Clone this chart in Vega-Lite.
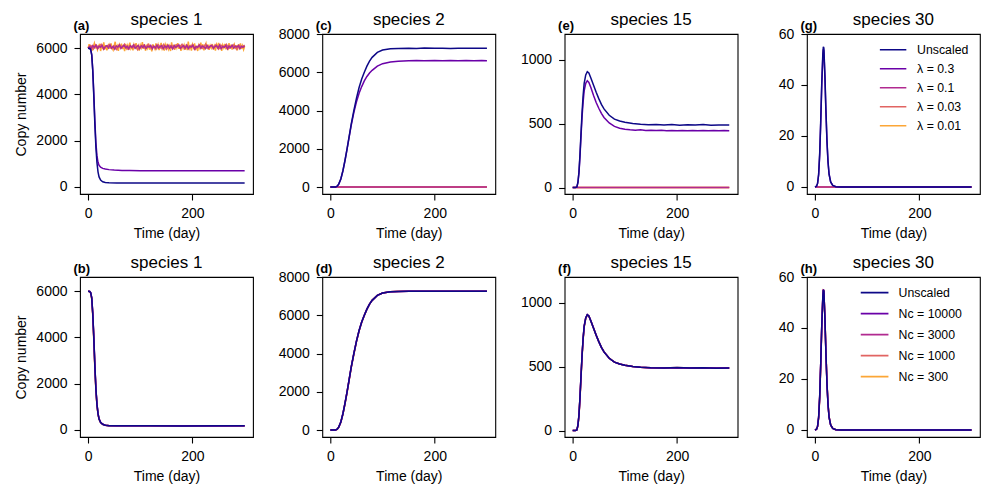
{
"$schema":"https://vega.github.io/schema/vega-lite/v6.json",
"background":"white",
"padding":{"left":14,"top":10,"right":5,"bottom":5},
"config":{
 "font":"Liberation Sans",
 "view":{"stroke":"black","strokeWidth":1.1},
 "axis":{"grid":false,"domain":false,"tickColor":"black","tickSize":6,"tickWidth":1.1,"labelColor":"black","labelFontSize":14,"labelFont":"Liberation Sans","labelFlush":false,"titleColor":"black","titleFontSize":14,"titleFont":"Liberation Sans","titleFontWeight":"normal"},
 "axisX":{"labelPadding":6,"titlePadding":6},
 "axisY":{"labelPadding":7,"titlePadding":7},
 "title":{"fontSize":17,"fontWeight":"normal","color":"black","font":"Liberation Sans","baseline":"alphabetic","offset":-10},
 "legend":{"labelColor":"black","labelFont":"Liberation Sans"}
},
"datasets":{
"a":[
{"k":4,"t":0,"v":6000},{"k":4,"t":2,"v":6170},{"k":4,"t":4,"v":5960},{"k":4,"t":6,"v":6110},{"k":4,"t":8,"v":5900},{"k":4,"t":10,"v":6080},{"k":4,"t":12,"v":6220},{"k":4,"t":14,"v":5990},{"k":4,"t":16,"v":6140},{"k":4,"t":18,"v":5930},{"k":4,"t":20,"v":6060},
{"k":4,"t":22,"v":6190},{"k":4,"t":24,"v":5880},{"k":4,"t":26,"v":6100},{"k":4,"t":28,"v":6020},{"k":4,"t":30,"v":6250},{"k":4,"t":32,"v":5950},{"k":4,"t":34,"v":6130},{"k":4,"t":36,"v":5910},{"k":4,"t":38,"v":6070},{"k":4,"t":40,"v":6160},
{"k":4,"t":42,"v":5970},{"k":4,"t":44,"v":6210},{"k":4,"t":46,"v":6010},{"k":4,"t":48,"v":5920},{"k":4,"t":50,"v":6120},{"k":4,"t":52,"v":6280},{"k":4,"t":54,"v":5940},{"k":4,"t":56,"v":6090},{"k":4,"t":58,"v":5890},{"k":4,"t":60,"v":6150},
{"k":4,"t":62,"v":6030},{"k":4,"t":64,"v":6200},{"k":4,"t":66,"v":5960},{"k":4,"t":68,"v":6110},{"k":4,"t":70,"v":5870},{"k":4,"t":72,"v":6180},{"k":4,"t":74,"v":6000},{"k":4,"t":76,"v":6130},{"k":4,"t":78,"v":5930},{"k":4,"t":80,"v":6240},
{"k":4,"t":82,"v":5980},{"k":4,"t":84,"v":6070},{"k":4,"t":86,"v":5910},{"k":4,"t":88,"v":6160},{"k":4,"t":90,"v":6040},{"k":4,"t":92,"v":6220},{"k":4,"t":94,"v":5950},{"k":4,"t":96,"v":6100},{"k":4,"t":98,"v":5900},{"k":4,"t":100,"v":6140},
{"k":4,"t":102,"v":6020},{"k":4,"t":104,"v":6260},{"k":4,"t":106,"v":5970},{"k":4,"t":108,"v":6180},{"k":4,"t":110,"v":5890},{"k":4,"t":112,"v":6090},{"k":4,"t":114,"v":5990},{"k":4,"t":116,"v":6200},{"k":4,"t":118,"v":5940},{"k":4,"t":120,"v":6120},
{"k":4,"t":122,"v":5860},{"k":4,"t":124,"v":6170},{"k":4,"t":126,"v":6050},{"k":4,"t":128,"v":5960},{"k":4,"t":130,"v":6210},{"k":4,"t":132,"v":6010},{"k":4,"t":134,"v":6150},{"k":4,"t":136,"v":5920},{"k":4,"t":138,"v":6080},{"k":4,"t":140,"v":6230},
{"k":4,"t":142,"v":5980},{"k":4,"t":144,"v":6110},{"k":4,"t":146,"v":5900},{"k":4,"t":148,"v":6160},{"k":4,"t":150,"v":6030},{"k":4,"t":152,"v":6190},{"k":4,"t":154,"v":5960},{"k":4,"t":156,"v":6090},{"k":4,"t":158,"v":5880},{"k":4,"t":160,"v":6250},
{"k":4,"t":162,"v":5990},{"k":4,"t":164,"v":6140},{"k":4,"t":166,"v":5930},{"k":4,"t":168,"v":6170},{"k":4,"t":170,"v":6020},{"k":4,"t":172,"v":6220},{"k":4,"t":174,"v":5970},{"k":4,"t":176,"v":6120},{"k":4,"t":178,"v":5890},{"k":4,"t":180,"v":6150},
{"k":4,"t":182,"v":6000},{"k":4,"t":184,"v":6140},{"k":4,"t":186,"v":5940},{"k":4,"t":188,"v":6160},{"k":4,"t":190,"v":5920},{"k":4,"t":192,"v":6290},{"k":4,"t":194,"v":5980},{"k":4,"t":196,"v":6080},{"k":4,"t":198,"v":5900},{"k":4,"t":200,"v":6160},
{"k":4,"t":202,"v":6030},{"k":4,"t":204,"v":6210},{"k":4,"t":206,"v":5950},{"k":4,"t":208,"v":6100},{"k":4,"t":210,"v":5880},{"k":4,"t":212,"v":6130},{"k":4,"t":214,"v":6010},{"k":4,"t":216,"v":6240},{"k":4,"t":218,"v":5960},{"k":4,"t":220,"v":6170},
{"k":4,"t":222,"v":5910},{"k":4,"t":224,"v":6060},{"k":4,"t":226,"v":6200},{"k":4,"t":228,"v":5970},{"k":4,"t":230,"v":6150},{"k":4,"t":232,"v":5930},{"k":4,"t":234,"v":6120},{"k":4,"t":236,"v":6010},{"k":4,"t":238,"v":6180},{"k":4,"t":240,"v":5940},
{"k":4,"t":242,"v":6090},{"k":4,"t":244,"v":5900},{"k":4,"t":246,"v":6160},{"k":4,"t":248,"v":6040},{"k":4,"t":250,"v":6230},{"k":4,"t":252,"v":5970},{"k":4,"t":254,"v":6110},{"k":4,"t":256,"v":5890},{"k":4,"t":258,"v":6140},{"k":4,"t":260,"v":6020},
{"k":4,"t":262,"v":6190},{"k":4,"t":264,"v":5950},{"k":4,"t":266,"v":6120},{"k":4,"t":268,"v":5920},{"k":4,"t":270,"v":6220},{"k":4,"t":272,"v":5990},{"k":4,"t":274,"v":6150},{"k":4,"t":276,"v":5940},{"k":4,"t":278,"v":6100},{"k":4,"t":280,"v":6180},
{"k":4,"t":282,"v":5960},{"k":4,"t":284,"v":6130},{"k":4,"t":286,"v":5910},{"k":4,"t":288,"v":6170},{"k":4,"t":290,"v":6030},{"k":4,"t":292,"v":6210},{"k":4,"t":294,"v":5970},{"k":4,"t":296,"v":6110},{"k":4,"t":298,"v":5940},{"k":4,"t":300,"v":6080},
{"k":3,"t":0,"v":6000},{"k":3,"t":5,"v":6120},{"k":3,"t":10,"v":5960},{"k":3,"t":15,"v":6150},{"k":3,"t":20,"v":6020},{"k":3,"t":25,"v":6170},{"k":3,"t":30,"v":5950},{"k":3,"t":35,"v":6090},{"k":3,"t":40,"v":6140},{"k":3,"t":45,"v":5990},
{"k":3,"t":50,"v":6110},{"k":3,"t":55,"v":5940},{"k":3,"t":60,"v":6160},{"k":3,"t":65,"v":6040},{"k":3,"t":70,"v":6180},{"k":3,"t":75,"v":5970},{"k":3,"t":80,"v":6100},{"k":3,"t":85,"v":6010},{"k":3,"t":90,"v":6150},{"k":3,"t":95,"v":5930},
{"k":3,"t":100,"v":6080},{"k":3,"t":105,"v":6130},{"k":3,"t":110,"v":5980},{"k":3,"t":115,"v":6170},{"k":3,"t":120,"v":6030},{"k":3,"t":125,"v":6100},{"k":3,"t":130,"v":5960},{"k":3,"t":135,"v":6140},{"k":3,"t":140,"v":6000},{"k":3,"t":145,"v":6160},
{"k":3,"t":150,"v":5950},{"k":3,"t":155,"v":6090},{"k":3,"t":160,"v":6120},{"k":3,"t":165,"v":5990},{"k":3,"t":170,"v":6150},{"k":3,"t":175,"v":6040},{"k":3,"t":180,"v":6170},{"k":3,"t":185,"v":5970},{"k":3,"t":190,"v":6110},{"k":3,"t":195,"v":6020},
{"k":3,"t":200,"v":6160},{"k":3,"t":205,"v":5940},{"k":3,"t":210,"v":6080},{"k":3,"t":215,"v":6130},{"k":3,"t":220,"v":6000},{"k":3,"t":225,"v":6170},{"k":3,"t":230,"v":5980},{"k":3,"t":235,"v":6100},{"k":3,"t":240,"v":6050},{"k":3,"t":245,"v":6150},
{"k":3,"t":250,"v":5960},{"k":3,"t":255,"v":6120},{"k":3,"t":260,"v":6030},{"k":3,"t":265,"v":6170},{"k":3,"t":270,"v":5990},{"k":3,"t":275,"v":6090},{"k":3,"t":280,"v":6140},{"k":3,"t":285,"v":5950},{"k":3,"t":290,"v":6110},{"k":3,"t":295,"v":6060},{"k":3,"t":300,"v":6130},
{"k":2,"t":0,"v":6000},{"k":2,"t":3,"v":6080},{"k":2,"t":6,"v":5990},{"k":2,"t":9,"v":6110},{"k":2,"t":12,"v":6030},{"k":2,"t":15,"v":6130},{"k":2,"t":18,"v":5980},{"k":2,"t":21,"v":6090},{"k":2,"t":24,"v":6040},{"k":2,"t":27,"v":6120},
{"k":2,"t":30,"v":5970},{"k":2,"t":33,"v":6070},{"k":2,"t":36,"v":6110},{"k":2,"t":39,"v":6010},{"k":2,"t":42,"v":6140},{"k":2,"t":45,"v":6000},{"k":2,"t":48,"v":6080},{"k":2,"t":51,"v":5960},{"k":2,"t":54,"v":6100},{"k":2,"t":57,"v":6050},
{"k":2,"t":60,"v":6130},{"k":2,"t":63,"v":5990},{"k":2,"t":66,"v":6070},{"k":2,"t":69,"v":6120},{"k":2,"t":72,"v":6020},{"k":2,"t":75,"v":6090},{"k":2,"t":78,"v":5970},{"k":2,"t":81,"v":6110},{"k":2,"t":84,"v":6040},{"k":2,"t":87,"v":6140},
{"k":2,"t":90,"v":6000},{"k":2,"t":93,"v":6060},{"k":2,"t":96,"v":6120},{"k":2,"t":99,"v":5980},{"k":2,"t":102,"v":6100},{"k":2,"t":105,"v":6030},{"k":2,"t":108,"v":6130},{"k":2,"t":111,"v":5990},{"k":2,"t":114,"v":6080},{"k":2,"t":117,"v":6050},
{"k":2,"t":120,"v":6120},{"k":2,"t":123,"v":5970},{"k":2,"t":126,"v":6090},{"k":2,"t":129,"v":6020},{"k":2,"t":132,"v":6140},{"k":2,"t":135,"v":6010},{"k":2,"t":138,"v":6070},{"k":2,"t":141,"v":6110},{"k":2,"t":144,"v":5980},{"k":2,"t":147,"v":6100},
{"k":2,"t":150,"v":6040},{"k":2,"t":153,"v":6130},{"k":2,"t":156,"v":6000},{"k":2,"t":159,"v":6080},{"k":2,"t":162,"v":5970},{"k":2,"t":165,"v":6120},{"k":2,"t":168,"v":6030},{"k":2,"t":171,"v":6090},{"k":2,"t":174,"v":6140},{"k":2,"t":177,"v":5990},
{"k":2,"t":180,"v":6060},{"k":2,"t":183,"v":6110},{"k":2,"t":186,"v":6010},{"k":2,"t":189,"v":6130},{"k":2,"t":192,"v":5980},{"k":2,"t":195,"v":6090},{"k":2,"t":198,"v":6050},{"k":2,"t":201,"v":6120},{"k":2,"t":204,"v":5970},{"k":2,"t":207,"v":6080},
{"k":2,"t":210,"v":6030},{"k":2,"t":213,"v":6140},{"k":2,"t":216,"v":6000},{"k":2,"t":219,"v":6100},{"k":2,"t":222,"v":6060},{"k":2,"t":225,"v":5980},{"k":2,"t":228,"v":6120},{"k":2,"t":231,"v":6020},{"k":2,"t":234,"v":6090},{"k":2,"t":237,"v":6130},
{"k":2,"t":240,"v":5990},{"k":2,"t":243,"v":6070},{"k":2,"t":246,"v":6110},{"k":2,"t":249,"v":6010},{"k":2,"t":252,"v":6140},{"k":2,"t":255,"v":5980},{"k":2,"t":258,"v":6080},{"k":2,"t":261,"v":6040},{"k":2,"t":264,"v":6120},{"k":2,"t":267,"v":5970},
{"k":2,"t":270,"v":6100},{"k":2,"t":273,"v":6030},{"k":2,"t":276,"v":6130},{"k":2,"t":279,"v":6000},{"k":2,"t":282,"v":6090},{"k":2,"t":285,"v":6050},{"k":2,"t":288,"v":6120},{"k":2,"t":291,"v":5980},{"k":2,"t":294,"v":6080},{"k":2,"t":297,"v":6040},{"k":2,"t":300,"v":6100},
{"k":1,"t":0,"v":6000},{"k":1,"t":3,"v":5990},{"k":1,"t":5,"v":5940},{"k":1,"t":7,"v":5720},{"k":1,"t":9,"v":5050},{"k":1,"t":11,"v":4000},{"k":1,"t":13,"v":2850},{"k":1,"t":15,"v":1900},{"k":1,"t":17,"v":1350},{"k":1,"t":19,"v":1060},{"k":1,"t":21,"v":930},{"k":1,"t":24,"v":850},{"k":1,"t":28,"v":800},{"k":1,"t":33,"v":770},{"k":1,"t":40,"v":745},{"k":1,"t":50,"v":725},{"k":1,"t":65,"v":712},{"k":1,"t":80,"v":705},{"k":1,"t":100,"v":700},{"k":1,"t":130,"v":698},{"k":1,"t":160,"v":697},{"k":1,"t":200,"v":696},{"k":1,"t":250,"v":695},{"k":1,"t":300,"v":694},
{"k":0,"t":0,"v":6000},{"k":0,"t":3,"v":5990},{"k":0,"t":5,"v":5940},{"k":0,"t":7,"v":5700},{"k":0,"t":9,"v":5000},{"k":0,"t":11,"v":3900},{"k":0,"t":13,"v":2700},{"k":0,"t":15,"v":1700},{"k":0,"t":17,"v":1050},{"k":0,"t":19,"v":650},{"k":0,"t":21,"v":430},{"k":0,"t":24,"v":290},{"k":0,"t":28,"v":220},{"k":0,"t":33,"v":190},{"k":0,"t":40,"v":177},{"k":0,"t":55,"v":171},{"k":0,"t":80,"v":170},{"k":0,"t":120,"v":169},{"k":0,"t":170,"v":170},{"k":0,"t":220,"v":169},{"k":0,"t":260,"v":170},{"k":0,"t":300,"v":170}
],
"b":[
{"k":4,"t":0,"v":6000},{"k":4,"t":3,"v":5985},{"k":4,"t":5,"v":5910},{"k":4,"t":7,"v":5650},{"k":4,"t":9,"v":4920},{"k":4,"t":11,"v":3850},{"k":4,"t":13,"v":2650},{"k":4,"t":15,"v":1680},{"k":4,"t":17,"v":1060},{"k":4,"t":19,"v":680},{"k":4,"t":21,"v":460},{"k":4,"t":24,"v":315},{"k":4,"t":28,"v":238},{"k":4,"t":33,"v":199},{"k":4,"t":40,"v":181},{"k":4,"t":55,"v":174},{"k":4,"t":80,"v":172},{"k":4,"t":120,"v":171},{"k":4,"t":180,"v":172},{"k":4,"t":240,"v":171},{"k":4,"t":300,"v":172},
{"k":3,"t":0,"v":6000},{"k":3,"t":3,"v":5988},{"k":3,"t":5,"v":5920},{"k":3,"t":7,"v":5680},{"k":3,"t":9,"v":4970},{"k":3,"t":11,"v":3900},{"k":3,"t":13,"v":2700},{"k":3,"t":15,"v":1720},{"k":3,"t":17,"v":1080},{"k":3,"t":19,"v":690},{"k":3,"t":21,"v":465},{"k":3,"t":24,"v":318},{"k":3,"t":28,"v":239},{"k":3,"t":33,"v":200},{"k":3,"t":40,"v":182},{"k":3,"t":55,"v":175},{"k":3,"t":80,"v":172},{"k":3,"t":120,"v":172},{"k":3,"t":180,"v":171},{"k":3,"t":240,"v":172},{"k":3,"t":300,"v":171},
{"k":2,"t":0,"v":6000},{"k":2,"t":3,"v":5990},{"k":2,"t":5,"v":5935},{"k":2,"t":7,"v":5710},{"k":2,"t":9,"v":5020},{"k":2,"t":11,"v":3980},{"k":2,"t":13,"v":2780},{"k":2,"t":15,"v":1770},{"k":2,"t":17,"v":1115},{"k":2,"t":19,"v":705},{"k":2,"t":21,"v":472},{"k":2,"t":24,"v":321},{"k":2,"t":28,"v":240},{"k":2,"t":33,"v":200},{"k":2,"t":40,"v":182},{"k":2,"t":55,"v":175},{"k":2,"t":80,"v":172},{"k":2,"t":120,"v":172},{"k":2,"t":180,"v":171},{"k":2,"t":240,"v":172},{"k":2,"t":300,"v":172},
{"k":1,"t":0,"v":6000},{"k":1,"t":3,"v":5992},{"k":1,"t":5,"v":5940},{"k":1,"t":7,"v":5720},{"k":1,"t":9,"v":5040},{"k":1,"t":11,"v":4000},{"k":1,"t":13,"v":2800},{"k":1,"t":15,"v":1790},{"k":1,"t":17,"v":1125},{"k":1,"t":19,"v":712},{"k":1,"t":21,"v":475},{"k":1,"t":24,"v":322},{"k":1,"t":28,"v":241},{"k":1,"t":33,"v":201},{"k":1,"t":40,"v":183},{"k":1,"t":55,"v":175},{"k":1,"t":80,"v":173},{"k":1,"t":120,"v":172},{"k":1,"t":180,"v":172},{"k":1,"t":240,"v":171},{"k":1,"t":300,"v":172},
{"k":0,"t":0,"v":6000},{"k":0,"t":3,"v":5990},{"k":0,"t":5,"v":5930},{"k":0,"t":7,"v":5700},{"k":0,"t":9,"v":5000},{"k":0,"t":11,"v":3950},{"k":0,"t":13,"v":2750},{"k":0,"t":15,"v":1750},{"k":0,"t":17,"v":1100},{"k":0,"t":19,"v":700},{"k":0,"t":21,"v":470},{"k":0,"t":24,"v":320},{"k":0,"t":28,"v":240},{"k":0,"t":33,"v":200},{"k":0,"t":40,"v":182},{"k":0,"t":55,"v":175},{"k":0,"t":80,"v":172},{"k":0,"t":120,"v":172},{"k":0,"t":180,"v":171},{"k":0,"t":240,"v":172},{"k":0,"t":300,"v":172}
],
"c":[
{"k":4,"t":0,"v":0},{"k":4,"t":300,"v":0},
{"k":3,"t":0,"v":0},{"k":3,"t":300,"v":0},
{"k":2,"t":0,"v":0},{"k":2,"t":300,"v":0},
{"k":1,"t":0,"v":0},{"k":1,"t":5,"v":0},{"k":1,"t":10,"v":5},{"k":1,"t":13,"v":40},{"k":1,"t":16,"v":150},{"k":1,"t":20,"v":420},{"k":1,"t":24,"v":840},{"k":1,"t":28,"v":1380},{"k":1,"t":32,"v":2000},{"k":1,"t":36,"v":2620},{"k":1,"t":40,"v":3240},{"k":1,"t":45,"v":3900},{"k":1,"t":50,"v":4450},{"k":1,"t":55,"v":4900},{"k":1,"t":60,"v":5250},{"k":1,"t":65,"v":5550},{"k":1,"t":70,"v":5780},{"k":1,"t":75,"v":5960},{"k":1,"t":80,"v":6100},{"k":1,"t":90,"v":6320},{"k":1,"t":100,"v":6450},{"k":1,"t":115,"v":6540},{"k":1,"t":130,"v":6580},{"k":1,"t":150,"v":6600},{"k":1,"t":165,"v":6610},{"k":1,"t":180,"v":6595},{"k":1,"t":200,"v":6615},{"k":1,"t":215,"v":6600},{"k":1,"t":230,"v":6620},{"k":1,"t":245,"v":6605},{"k":1,"t":260,"v":6615},{"k":1,"t":275,"v":6600},{"k":1,"t":290,"v":6612},{"k":1,"t":300,"v":6605},
{"k":0,"t":0,"v":0},{"k":0,"t":5,"v":0},{"k":0,"t":10,"v":5},{"k":0,"t":13,"v":40},{"k":0,"t":16,"v":150},{"k":0,"t":20,"v":420},{"k":0,"t":24,"v":850},{"k":0,"t":28,"v":1400},{"k":0,"t":32,"v":2000},{"k":0,"t":36,"v":2650},{"k":0,"t":40,"v":3300},{"k":0,"t":45,"v":4000},{"k":0,"t":50,"v":4650},{"k":0,"t":55,"v":5200},{"k":0,"t":60,"v":5650},{"k":0,"t":65,"v":6000},{"k":0,"t":70,"v":6320},{"k":0,"t":75,"v":6580},{"k":0,"t":80,"v":6780},{"k":0,"t":90,"v":7040},{"k":0,"t":100,"v":7160},{"k":0,"t":115,"v":7225},{"k":0,"t":130,"v":7245},{"k":0,"t":150,"v":7255},{"k":0,"t":165,"v":7248},{"k":0,"t":180,"v":7262},{"k":0,"t":200,"v":7250},{"k":0,"t":215,"v":7258},{"k":0,"t":230,"v":7247},{"k":0,"t":245,"v":7260},{"k":0,"t":260,"v":7252},{"k":0,"t":275,"v":7258},{"k":0,"t":290,"v":7249},{"k":0,"t":300,"v":7255}
],
"d":[
{"k":4,"t":0,"v":0},{"k":4,"t":5,"v":0},{"k":4,"t":10,"v":4},{"k":4,"t":13,"v":35},{"k":4,"t":16,"v":140},{"k":4,"t":20,"v":400},{"k":4,"t":24,"v":820},{"k":4,"t":28,"v":1360},{"k":4,"t":32,"v":1960},{"k":4,"t":36,"v":2610},{"k":4,"t":40,"v":3260},{"k":4,"t":45,"v":3960},{"k":4,"t":50,"v":4620},{"k":4,"t":55,"v":5170},{"k":4,"t":60,"v":5630},{"k":4,"t":65,"v":5990},{"k":4,"t":70,"v":6310},{"k":4,"t":75,"v":6575},{"k":4,"t":80,"v":6780},{"k":4,"t":90,"v":7045},{"k":4,"t":100,"v":7165},{"k":4,"t":115,"v":7230},{"k":4,"t":130,"v":7250},{"k":4,"t":150,"v":7258},{"k":4,"t":175,"v":7252},{"k":4,"t":200,"v":7255},{"k":4,"t":225,"v":7251},{"k":4,"t":250,"v":7257},{"k":4,"t":275,"v":7250},{"k":4,"t":300,"v":7253},
{"k":3,"t":0,"v":0},{"k":3,"t":5,"v":0},{"k":3,"t":10,"v":5},{"k":3,"t":13,"v":38},{"k":3,"t":16,"v":145},{"k":3,"t":20,"v":410},{"k":3,"t":24,"v":835},{"k":3,"t":28,"v":1380},{"k":3,"t":32,"v":1980},{"k":3,"t":36,"v":2630},{"k":3,"t":40,"v":3280},{"k":3,"t":45,"v":3980},{"k":3,"t":50,"v":4635},{"k":3,"t":55,"v":5185},{"k":3,"t":60,"v":5640},{"k":3,"t":65,"v":5995},{"k":3,"t":70,"v":6315},{"k":3,"t":75,"v":6578},{"k":3,"t":80,"v":6780},{"k":3,"t":90,"v":7042},{"k":3,"t":100,"v":7162},{"k":3,"t":115,"v":7228},{"k":3,"t":130,"v":7247},{"k":3,"t":150,"v":7256},{"k":3,"t":175,"v":7251},{"k":3,"t":200,"v":7257},{"k":3,"t":225,"v":7252},{"k":3,"t":250,"v":7255},{"k":3,"t":275,"v":7253},{"k":3,"t":300,"v":7254},
{"k":2,"t":0,"v":0},{"k":2,"t":5,"v":0},{"k":2,"t":10,"v":5},{"k":2,"t":13,"v":40},{"k":2,"t":16,"v":150},{"k":2,"t":20,"v":418},{"k":2,"t":24,"v":848},{"k":2,"t":28,"v":1398},{"k":2,"t":32,"v":1998},{"k":2,"t":36,"v":2648},{"k":2,"t":40,"v":3298},{"k":2,"t":45,"v":3998},{"k":2,"t":50,"v":4648},{"k":2,"t":55,"v":5198},{"k":2,"t":60,"v":5648},{"k":2,"t":65,"v":5998},{"k":2,"t":70,"v":6318},{"k":2,"t":75,"v":6580},{"k":2,"t":80,"v":6780},{"k":2,"t":90,"v":7040},{"k":2,"t":100,"v":7160},{"k":2,"t":115,"v":7226},{"k":2,"t":130,"v":7246},{"k":2,"t":150,"v":7255},{"k":2,"t":175,"v":7250},{"k":2,"t":200,"v":7258},{"k":2,"t":225,"v":7250},{"k":2,"t":250,"v":7256},{"k":2,"t":275,"v":7252},{"k":2,"t":300,"v":7255},
{"k":1,"t":0,"v":0},{"k":1,"t":5,"v":0},{"k":1,"t":10,"v":5},{"k":1,"t":13,"v":41},{"k":1,"t":16,"v":152},{"k":1,"t":20,"v":422},{"k":1,"t":24,"v":852},{"k":1,"t":28,"v":1402},{"k":1,"t":32,"v":2002},{"k":1,"t":36,"v":2652},{"k":1,"t":40,"v":3302},{"k":1,"t":45,"v":4002},{"k":1,"t":50,"v":4650},{"k":1,"t":55,"v":5200},{"k":1,"t":60,"v":5650},{"k":1,"t":65,"v":6000},{"k":1,"t":70,"v":6320},{"k":1,"t":75,"v":6580},{"k":1,"t":80,"v":6780},{"k":1,"t":90,"v":7040},{"k":1,"t":100,"v":7160},{"k":1,"t":115,"v":7225},{"k":1,"t":130,"v":7245},{"k":1,"t":150,"v":7254},{"k":1,"t":175,"v":7251},{"k":1,"t":200,"v":7257},{"k":1,"t":225,"v":7251},{"k":1,"t":250,"v":7255},{"k":1,"t":275,"v":7253},{"k":1,"t":300,"v":7254},
{"k":0,"t":0,"v":0},{"k":0,"t":5,"v":0},{"k":0,"t":10,"v":5},{"k":0,"t":13,"v":40},{"k":0,"t":16,"v":150},{"k":0,"t":20,"v":420},{"k":0,"t":24,"v":850},{"k":0,"t":28,"v":1400},{"k":0,"t":32,"v":2000},{"k":0,"t":36,"v":2650},{"k":0,"t":40,"v":3300},{"k":0,"t":45,"v":4000},{"k":0,"t":50,"v":4650},{"k":0,"t":55,"v":5200},{"k":0,"t":60,"v":5650},{"k":0,"t":65,"v":6000},{"k":0,"t":70,"v":6320},{"k":0,"t":75,"v":6580},{"k":0,"t":80,"v":6780},{"k":0,"t":90,"v":7040},{"k":0,"t":100,"v":7160},{"k":0,"t":115,"v":7225},{"k":0,"t":130,"v":7245},{"k":0,"t":150,"v":7255},{"k":0,"t":175,"v":7250},{"k":0,"t":200,"v":7258},{"k":0,"t":225,"v":7250},{"k":0,"t":250,"v":7256},{"k":0,"t":275,"v":7252},{"k":0,"t":300,"v":7255}
],
"e":[
{"k":4,"t":0,"v":0},{"k":4,"t":300,"v":0},
{"k":3,"t":0,"v":0},{"k":3,"t":300,"v":0},
{"k":2,"t":0,"v":0},{"k":2,"t":300,"v":0},
{"k":1,"t":0,"v":0},{"k":1,"t":5,"v":0},{"k":1,"t":8,"v":5},{"k":1,"t":10,"v":38},{"k":1,"t":12,"v":115},{"k":1,"t":14,"v":245},{"k":1,"t":16,"v":405},{"k":1,"t":18,"v":555},{"k":1,"t":20,"v":670},{"k":1,"t":22,"v":755},{"k":1,"t":25,"v":815},{"k":1,"t":28,"v":835},{"k":1,"t":31,"v":822},{"k":1,"t":35,"v":780},{"k":1,"t":40,"v":720},{"k":1,"t":45,"v":665},{"k":1,"t":50,"v":620},{"k":1,"t":55,"v":580},{"k":1,"t":60,"v":548},{"k":1,"t":70,"v":505},{"k":1,"t":80,"v":478},{"k":1,"t":90,"v":464},{"k":1,"t":100,"v":456},{"k":1,"t":110,"v":452},{"k":1,"t":120,"v":449},{"k":1,"t":130,"v":451},{"k":1,"t":140,"v":447},{"k":1,"t":150,"v":449},{"k":1,"t":160,"v":446},{"k":1,"t":170,"v":448},{"k":1,"t":180,"v":445},{"k":1,"t":190,"v":447},{"k":1,"t":200,"v":444},{"k":1,"t":210,"v":446},{"k":1,"t":220,"v":445},{"k":1,"t":230,"v":447},{"k":1,"t":240,"v":444},{"k":1,"t":250,"v":446},{"k":1,"t":260,"v":445},{"k":1,"t":270,"v":447},{"k":1,"t":280,"v":444},{"k":1,"t":290,"v":446},{"k":1,"t":300,"v":445},
{"k":0,"t":0,"v":0},{"k":0,"t":5,"v":0},{"k":0,"t":8,"v":5},{"k":0,"t":10,"v":40},{"k":0,"t":12,"v":120},{"k":0,"t":14,"v":260},{"k":0,"t":16,"v":430},{"k":0,"t":18,"v":590},{"k":0,"t":20,"v":720},{"k":0,"t":22,"v":815},{"k":0,"t":25,"v":880},{"k":0,"t":28,"v":905},{"k":0,"t":31,"v":895},{"k":0,"t":35,"v":855},{"k":0,"t":40,"v":800},{"k":0,"t":45,"v":745},{"k":0,"t":50,"v":695},{"k":0,"t":55,"v":650},{"k":0,"t":60,"v":615},{"k":0,"t":70,"v":565},{"k":0,"t":80,"v":535},{"k":0,"t":90,"v":520},{"k":0,"t":100,"v":510},{"k":0,"t":115,"v":500},{"k":0,"t":130,"v":494},{"k":0,"t":145,"v":491},{"k":0,"t":160,"v":493},{"k":0,"t":175,"v":489},{"k":0,"t":190,"v":492},{"k":0,"t":205,"v":488},{"k":0,"t":220,"v":491},{"k":0,"t":235,"v":489},{"k":0,"t":250,"v":492},{"k":0,"t":265,"v":488},{"k":0,"t":280,"v":490},{"k":0,"t":300,"v":489}
],
"f":[
{"k":4,"t":0,"v":0},{"k":4,"t":5,"v":0},{"k":4,"t":8,"v":4},{"k":4,"t":10,"v":36},{"k":4,"t":12,"v":112},{"k":4,"t":14,"v":248},{"k":4,"t":16,"v":415},{"k":4,"t":18,"v":575},{"k":4,"t":20,"v":708},{"k":4,"t":22,"v":806},{"k":4,"t":25,"v":875},{"k":4,"t":28,"v":902},{"k":4,"t":31,"v":893},{"k":4,"t":35,"v":854},{"k":4,"t":40,"v":800},{"k":4,"t":45,"v":746},{"k":4,"t":50,"v":696},{"k":4,"t":55,"v":651},{"k":4,"t":60,"v":616},{"k":4,"t":70,"v":566},{"k":4,"t":80,"v":536},{"k":4,"t":90,"v":521},{"k":4,"t":100,"v":511},{"k":4,"t":115,"v":501},{"k":4,"t":130,"v":495},{"k":4,"t":150,"v":490},{"k":4,"t":175,"v":491},{"k":4,"t":200,"v":491},{"k":4,"t":225,"v":490},{"k":4,"t":250,"v":490},{"k":4,"t":275,"v":489},{"k":4,"t":300,"v":489},
{"k":3,"t":0,"v":0},{"k":3,"t":5,"v":0},{"k":3,"t":8,"v":5},{"k":3,"t":10,"v":38},{"k":3,"t":12,"v":116},{"k":3,"t":14,"v":254},{"k":3,"t":16,"v":422},{"k":3,"t":18,"v":583},{"k":3,"t":20,"v":714},{"k":3,"t":22,"v":810},{"k":3,"t":25,"v":878},{"k":3,"t":28,"v":904},{"k":3,"t":31,"v":894},{"k":3,"t":35,"v":855},{"k":3,"t":40,"v":800},{"k":3,"t":45,"v":745},{"k":3,"t":50,"v":695},{"k":3,"t":55,"v":650},{"k":3,"t":60,"v":615},{"k":3,"t":70,"v":565},{"k":3,"t":80,"v":535},{"k":3,"t":90,"v":520},{"k":3,"t":100,"v":510},{"k":3,"t":115,"v":500},{"k":3,"t":130,"v":494},{"k":3,"t":150,"v":491},{"k":3,"t":175,"v":490},{"k":3,"t":200,"v":492},{"k":3,"t":225,"v":489},{"k":3,"t":250,"v":491},{"k":3,"t":275,"v":488},{"k":3,"t":300,"v":490},
{"k":2,"t":0,"v":0},{"k":2,"t":5,"v":0},{"k":2,"t":8,"v":5},{"k":2,"t":10,"v":40},{"k":2,"t":12,"v":119},{"k":2,"t":14,"v":258},{"k":2,"t":16,"v":428},{"k":2,"t":18,"v":588},{"k":2,"t":20,"v":718},{"k":2,"t":22,"v":814},{"k":2,"t":25,"v":880},{"k":2,"t":28,"v":906},{"k":2,"t":31,"v":896},{"k":2,"t":35,"v":856},{"k":2,"t":40,"v":801},{"k":2,"t":45,"v":745},{"k":2,"t":50,"v":695},{"k":2,"t":55,"v":650},{"k":2,"t":60,"v":615},{"k":2,"t":70,"v":565},{"k":2,"t":80,"v":535},{"k":2,"t":90,"v":520},{"k":2,"t":100,"v":510},{"k":2,"t":115,"v":500},{"k":2,"t":130,"v":494},{"k":2,"t":150,"v":490},{"k":2,"t":175,"v":491},{"k":2,"t":200,"v":490},{"k":2,"t":225,"v":491},{"k":2,"t":250,"v":489},{"k":2,"t":275,"v":490},{"k":2,"t":300,"v":489},
{"k":1,"t":0,"v":0},{"k":1,"t":5,"v":0},{"k":1,"t":8,"v":5},{"k":1,"t":10,"v":41},{"k":1,"t":12,"v":121},{"k":1,"t":14,"v":262},{"k":1,"t":16,"v":432},{"k":1,"t":18,"v":592},{"k":1,"t":20,"v":721},{"k":1,"t":22,"v":816},{"k":1,"t":25,"v":881},{"k":1,"t":28,"v":905},{"k":1,"t":31,"v":895},{"k":1,"t":35,"v":855},{"k":1,"t":40,"v":800},{"k":1,"t":45,"v":745},{"k":1,"t":50,"v":695},{"k":1,"t":55,"v":650},{"k":1,"t":60,"v":615},{"k":1,"t":70,"v":565},{"k":1,"t":80,"v":535},{"k":1,"t":90,"v":520},{"k":1,"t":100,"v":510},{"k":1,"t":115,"v":500},{"k":1,"t":130,"v":494},{"k":1,"t":150,"v":491},{"k":1,"t":175,"v":490},{"k":1,"t":200,"v":491},{"k":1,"t":225,"v":489},{"k":1,"t":250,"v":490},{"k":1,"t":275,"v":489},{"k":1,"t":300,"v":490},
{"k":0,"t":0,"v":0},{"k":0,"t":5,"v":0},{"k":0,"t":8,"v":5},{"k":0,"t":10,"v":40},{"k":0,"t":12,"v":120},{"k":0,"t":14,"v":260},{"k":0,"t":16,"v":430},{"k":0,"t":18,"v":590},{"k":0,"t":20,"v":720},{"k":0,"t":22,"v":815},{"k":0,"t":25,"v":880},{"k":0,"t":28,"v":905},{"k":0,"t":31,"v":895},{"k":0,"t":35,"v":855},{"k":0,"t":40,"v":800},{"k":0,"t":45,"v":745},{"k":0,"t":50,"v":695},{"k":0,"t":55,"v":650},{"k":0,"t":60,"v":615},{"k":0,"t":70,"v":565},{"k":0,"t":80,"v":535},{"k":0,"t":90,"v":520},{"k":0,"t":100,"v":510},{"k":0,"t":115,"v":500},{"k":0,"t":130,"v":494},{"k":0,"t":150,"v":491},{"k":0,"t":175,"v":490},{"k":0,"t":200,"v":492},{"k":0,"t":225,"v":489},{"k":0,"t":250,"v":491},{"k":0,"t":275,"v":488},{"k":0,"t":300,"v":490}
],
"g":[
{"k":4,"t":0,"v":0},{"k":4,"t":300,"v":0},
{"k":3,"t":0,"v":0},{"k":3,"t":300,"v":0},
{"k":2,"t":0,"v":0},{"k":2,"t":300,"v":0},
{"k":1,"t":0,"v":0},{"k":1,"t":3,"v":0.3},{"k":1,"t":5,"v":1.4},{"k":1,"t":7,"v":4.8},{"k":1,"t":9,"v":12.5},{"k":1,"t":11,"v":25},{"k":1,"t":13,"v":40},{"k":1,"t":15,"v":51},{"k":1,"t":16,"v":54},{"k":1,"t":17,"v":53.5},{"k":1,"t":19,"v":43},{"k":1,"t":21,"v":29},{"k":1,"t":23,"v":17.5},{"k":1,"t":25,"v":9.5},{"k":1,"t":27,"v":5},{"k":1,"t":30,"v":2},{"k":1,"t":34,"v":0.6},{"k":1,"t":40,"v":0.1},{"k":1,"t":50,"v":0},{"k":1,"t":300,"v":0},
{"k":0,"t":0,"v":0},{"k":0,"t":3,"v":0.3},{"k":0,"t":5,"v":1.5},{"k":0,"t":7,"v":5},{"k":0,"t":9,"v":13},{"k":0,"t":11,"v":26},{"k":0,"t":13,"v":41},{"k":0,"t":15,"v":52},{"k":0,"t":16,"v":55},{"k":0,"t":17,"v":54.5},{"k":0,"t":19,"v":44},{"k":0,"t":21,"v":30},{"k":0,"t":23,"v":18},{"k":0,"t":25,"v":10},{"k":0,"t":27,"v":5},{"k":0,"t":30,"v":2},{"k":0,"t":34,"v":0.6},{"k":0,"t":40,"v":0.1},{"k":0,"t":50,"v":0},{"k":0,"t":300,"v":0}
],
"h":[
{"k":4,"t":0,"v":0},{"k":4,"t":3,"v":0.3},{"k":4,"t":5,"v":1.3},{"k":4,"t":7,"v":4.6},{"k":4,"t":9,"v":12.2},{"k":4,"t":11,"v":25},{"k":4,"t":13,"v":40},{"k":4,"t":15,"v":51.5},{"k":4,"t":16,"v":54.8},{"k":4,"t":17,"v":54.6},{"k":4,"t":19,"v":44.5},{"k":4,"t":21,"v":30.5},{"k":4,"t":23,"v":18.5},{"k":4,"t":25,"v":10.3},{"k":4,"t":27,"v":5.2},{"k":4,"t":30,"v":2.1},{"k":4,"t":34,"v":0.6},{"k":4,"t":40,"v":0.1},{"k":4,"t":50,"v":0},{"k":4,"t":300,"v":0},
{"k":3,"t":0,"v":0},{"k":3,"t":3,"v":0.3},{"k":3,"t":5,"v":1.4},{"k":3,"t":7,"v":4.8},{"k":3,"t":9,"v":12.6},{"k":3,"t":11,"v":25.5},{"k":3,"t":13,"v":40.5},{"k":3,"t":15,"v":51.8},{"k":3,"t":16,"v":55},{"k":3,"t":17,"v":54.5},{"k":3,"t":19,"v":44.2},{"k":3,"t":21,"v":30.2},{"k":3,"t":23,"v":18.2},{"k":3,"t":25,"v":10.1},{"k":3,"t":27,"v":5.1},{"k":3,"t":30,"v":2},{"k":3,"t":34,"v":0.6},{"k":3,"t":40,"v":0.1},{"k":3,"t":50,"v":0},{"k":3,"t":300,"v":0},
{"k":2,"t":0,"v":0},{"k":2,"t":3,"v":0.3},{"k":2,"t":5,"v":1.5},{"k":2,"t":7,"v":5},{"k":2,"t":9,"v":13},{"k":2,"t":11,"v":26},{"k":2,"t":13,"v":41},{"k":2,"t":15,"v":52},{"k":2,"t":16,"v":55.2},{"k":2,"t":17,"v":54.4},{"k":2,"t":19,"v":44},{"k":2,"t":21,"v":30},{"k":2,"t":23,"v":18},{"k":2,"t":25,"v":10},{"k":2,"t":27,"v":5},{"k":2,"t":30,"v":2},{"k":2,"t":34,"v":0.6},{"k":2,"t":40,"v":0.1},{"k":2,"t":50,"v":0},{"k":2,"t":300,"v":0},
{"k":1,"t":0,"v":0},{"k":1,"t":3,"v":0.3},{"k":1,"t":5,"v":1.5},{"k":1,"t":7,"v":5.1},{"k":1,"t":9,"v":13.2},{"k":1,"t":11,"v":26.2},{"k":1,"t":13,"v":41.2},{"k":1,"t":15,"v":52.1},{"k":1,"t":16,"v":55},{"k":1,"t":17,"v":54.4},{"k":1,"t":19,"v":43.8},{"k":1,"t":21,"v":29.8},{"k":1,"t":23,"v":17.9},{"k":1,"t":25,"v":9.9},{"k":1,"t":27,"v":5},{"k":1,"t":30,"v":2},{"k":1,"t":34,"v":0.6},{"k":1,"t":40,"v":0.1},{"k":1,"t":50,"v":0},{"k":1,"t":300,"v":0},
{"k":0,"t":0,"v":0},{"k":0,"t":3,"v":0.3},{"k":0,"t":5,"v":1.5},{"k":0,"t":7,"v":5},{"k":0,"t":9,"v":13},{"k":0,"t":11,"v":26},{"k":0,"t":13,"v":41},{"k":0,"t":15,"v":52},{"k":0,"t":16,"v":55},{"k":0,"t":17,"v":54.5},{"k":0,"t":19,"v":44},{"k":0,"t":21,"v":30},{"k":0,"t":23,"v":18},{"k":0,"t":25,"v":10},{"k":0,"t":27,"v":5},{"k":0,"t":30,"v":2},{"k":0,"t":34,"v":0.6},{"k":0,"t":40,"v":0.1},{"k":0,"t":50,"v":0},{"k":0,"t":300,"v":0}
]
},
"vconcat":[
{"hconcat":[
{"width":173,"height":160,"data":{"name":"a"},"title":{"text":"species 1"},
 "layer":[
  {"mark":{"type":"line","strokeWidth":1.5},"encoding":{
   "x":{"field":"t","type":"quantitative","scale":{"domain":[-15.5,316],"nice":false,"zero":false},"axis":{"values":[0,200],"title":"Time (day)"}},
   "y":{"field":"v","type":"quantitative","scale":{"domain":[-310,6615],"nice":false,"zero":false},"axis":{"values":[0,2000,4000,6000],"format":"d","title":"Copy number"}},
   "color":{"field":"k","type":"nominal","scale":{"domain":[0,1,2,3,4],"range":["#0d0887","#6a00a8","#b12a90","#e16462","#fca636"]},"legend":null}}},
  {"data":{"values":[{"t":0}]},"mark":{"type":"point","opacity":0},"encoding":{"x":{"field":"t","type":"quantitative","scale":{"domain":[-15.5,316],"nice":false,"zero":false},"axis":{"orient":"top","title":"(a)","labels":false,"ticks":false,"domain":false,"titleAlign":"left","titleX":-7,"titleY":-5,"titleBaseline":"alphabetic","titleFontWeight":"bold","titleFontSize":13}}}}
 ],
 "resolve":{"axis":{"x":"independent"}}},
{"width":173,"height":160,"data":{"name":"c"},"title":{"text":"species 2"},
 "layer":[
  {"mark":{"type":"line","strokeWidth":1.5},"encoding":{
   "x":{"field":"t","type":"quantitative","scale":{"domain":[-15.5,316],"nice":false,"zero":false},"axis":{"values":[0,200],"title":"Time (day)"}},
   "y":{"field":"v","type":"quantitative","scale":{"domain":[-365,8000],"nice":false,"zero":false},"axis":{"values":[0,2000,4000,6000,8000],"format":"d","title":null}},
   "color":{"field":"k","type":"nominal","scale":{"domain":[0,1,2,3,4],"range":["#0d0887","#6a00a8","#b12a90","#e16462","#fca636"]},"legend":null}}},
  {"data":{"values":[{"t":0}]},"mark":{"type":"point","opacity":0},"encoding":{"x":{"field":"t","type":"quantitative","scale":{"domain":[-15.5,316],"nice":false,"zero":false},"axis":{"orient":"top","title":"(c)","labels":false,"ticks":false,"domain":false,"titleAlign":"left","titleX":-7,"titleY":-5,"titleBaseline":"alphabetic","titleFontWeight":"bold","titleFontSize":13}}}}
 ],
 "resolve":{"axis":{"x":"independent"}}},
{"width":173,"height":160,"data":{"name":"e"},"title":{"text":"species 15"},
 "layer":[
  {"mark":{"type":"line","strokeWidth":1.5},"encoding":{
   "x":{"field":"t","type":"quantitative","scale":{"domain":[-15.5,316],"nice":false,"zero":false},"axis":{"values":[0,200],"title":"Time (day)"}},
   "y":{"field":"v","type":"quantitative","scale":{"domain":[-50,1200],"nice":false,"zero":false},"axis":{"values":[0,500,1000],"format":"d","title":null}},
   "color":{"field":"k","type":"nominal","scale":{"domain":[0,1,2,3,4],"range":["#0d0887","#6a00a8","#b12a90","#e16462","#fca636"]},"legend":null}}},
  {"data":{"values":[{"t":0}]},"mark":{"type":"point","opacity":0},"encoding":{"x":{"field":"t","type":"quantitative","scale":{"domain":[-15.5,316],"nice":false,"zero":false},"axis":{"orient":"top","title":"(e)","labels":false,"ticks":false,"domain":false,"titleAlign":"left","titleX":-7,"titleY":-5,"titleBaseline":"alphabetic","titleFontWeight":"bold","titleFontSize":13}}}}
 ],
 "resolve":{"axis":{"x":"independent"}}},
{"width":173,"height":160,"data":{"name":"g"},"title":{"text":"species 30"},
 "layer":[
  {"mark":{"type":"line","strokeWidth":1.5},"encoding":{
   "x":{"field":"t","type":"quantitative","scale":{"domain":[-15.5,316],"nice":false,"zero":false},"axis":{"values":[0,200],"title":"Time (day)"}},
   "y":{"field":"v","type":"quantitative","scale":{"domain":[-2.75,60],"nice":false,"zero":false},"axis":{"values":[0,20,40,60],"format":"d","title":null}},
   "color":{"field":"k","type":"nominal","scale":{"domain":[0,1,2,3,4],"range":["#0d0887","#6a00a8","#b12a90","#e16462","#fca636"]},
    "legend":{"orient":"none","legendX":71.7,"legendY":6.5,"title":null,"symbolType":"stroke","symbolSize":700,"symbolStrokeWidth":1.6,"labelFontSize":12.3,"clipHeight":18.5,"rowPadding":0,"labelOffset":9.5,"padding":0,"labelExpr":"['Unscaled','λ = 0.3','λ = 0.1','λ = 0.03','λ = 0.01'][datum.value]"}}}},
  {"data":{"values":[{"t":0}]},"mark":{"type":"point","opacity":0},"encoding":{"x":{"field":"t","type":"quantitative","scale":{"domain":[-15.5,316],"nice":false,"zero":false},"axis":{"orient":"top","title":"(g)","labels":false,"ticks":false,"domain":false,"titleAlign":"left","titleX":-7,"titleY":-5,"titleBaseline":"alphabetic","titleFontWeight":"bold","titleFontSize":13}}}}
 ],
 "resolve":{"axis":{"x":"independent"}}}
],"spacing":69.3,"bounds":"flush","resolve":{"scale":{"color":"independent"},"legend":{"color":"independent"}}},
{"hconcat":[
{"width":173,"height":160,"data":{"name":"b"},"title":{"text":"species 1"},
 "layer":[
  {"mark":{"type":"line","strokeWidth":1.5},"encoding":{
   "x":{"field":"t","type":"quantitative","scale":{"domain":[-15.5,316],"nice":false,"zero":false},"axis":{"values":[0,200],"title":"Time (day)"}},
   "y":{"field":"v","type":"quantitative","scale":{"domain":[-310,6615],"nice":false,"zero":false},"axis":{"values":[0,2000,4000,6000],"format":"d","title":"Copy number"}},
   "color":{"field":"k","type":"nominal","scale":{"domain":[0,1,2,3,4],"range":["#0d0887","#6a00a8","#b12a90","#e16462","#fca636"]},"legend":null}}},
  {"data":{"values":[{"t":0}]},"mark":{"type":"point","opacity":0},"encoding":{"x":{"field":"t","type":"quantitative","scale":{"domain":[-15.5,316],"nice":false,"zero":false},"axis":{"orient":"top","title":"(b)","labels":false,"ticks":false,"domain":false,"titleAlign":"left","titleX":-7,"titleY":-5,"titleBaseline":"alphabetic","titleFontWeight":"bold","titleFontSize":13}}}}
 ],
 "resolve":{"axis":{"x":"independent"}}},
{"width":173,"height":160,"data":{"name":"d"},"title":{"text":"species 2"},
 "layer":[
  {"mark":{"type":"line","strokeWidth":1.5},"encoding":{
   "x":{"field":"t","type":"quantitative","scale":{"domain":[-15.5,316],"nice":false,"zero":false},"axis":{"values":[0,200],"title":"Time (day)"}},
   "y":{"field":"v","type":"quantitative","scale":{"domain":[-365,8000],"nice":false,"zero":false},"axis":{"values":[0,2000,4000,6000,8000],"format":"d","title":null}},
   "color":{"field":"k","type":"nominal","scale":{"domain":[0,1,2,3,4],"range":["#0d0887","#6a00a8","#b12a90","#e16462","#fca636"]},"legend":null}}},
  {"data":{"values":[{"t":0}]},"mark":{"type":"point","opacity":0},"encoding":{"x":{"field":"t","type":"quantitative","scale":{"domain":[-15.5,316],"nice":false,"zero":false},"axis":{"orient":"top","title":"(d)","labels":false,"ticks":false,"domain":false,"titleAlign":"left","titleX":-7,"titleY":-5,"titleBaseline":"alphabetic","titleFontWeight":"bold","titleFontSize":13}}}}
 ],
 "resolve":{"axis":{"x":"independent"}}},
{"width":173,"height":160,"data":{"name":"f"},"title":{"text":"species 15"},
 "layer":[
  {"mark":{"type":"line","strokeWidth":1.5},"encoding":{
   "x":{"field":"t","type":"quantitative","scale":{"domain":[-15.5,316],"nice":false,"zero":false},"axis":{"values":[0,200],"title":"Time (day)"}},
   "y":{"field":"v","type":"quantitative","scale":{"domain":[-50,1200],"nice":false,"zero":false},"axis":{"values":[0,500,1000],"format":"d","title":null}},
   "color":{"field":"k","type":"nominal","scale":{"domain":[0,1,2,3,4],"range":["#0d0887","#6a00a8","#b12a90","#e16462","#fca636"]},"legend":null}}},
  {"data":{"values":[{"t":0}]},"mark":{"type":"point","opacity":0},"encoding":{"x":{"field":"t","type":"quantitative","scale":{"domain":[-15.5,316],"nice":false,"zero":false},"axis":{"orient":"top","title":"(f)","labels":false,"ticks":false,"domain":false,"titleAlign":"left","titleX":-7,"titleY":-5,"titleBaseline":"alphabetic","titleFontWeight":"bold","titleFontSize":13}}}}
 ],
 "resolve":{"axis":{"x":"independent"}}},
{"width":173,"height":160,"data":{"name":"h"},"title":{"text":"species 30"},
 "layer":[
  {"mark":{"type":"line","strokeWidth":1.5},"encoding":{
   "x":{"field":"t","type":"quantitative","scale":{"domain":[-15.5,316],"nice":false,"zero":false},"axis":{"values":[0,200],"title":"Time (day)"}},
   "y":{"field":"v","type":"quantitative","scale":{"domain":[-2.75,60],"nice":false,"zero":false},"axis":{"values":[0,20,40,60],"format":"d","title":null}},
   "color":{"field":"k","type":"nominal","scale":{"domain":[0,1,2,3,4],"range":["#0d0887","#6a00a8","#b12a90","#e16462","#fca636"]},
    "legend":{"orient":"none","legendX":52.7,"legendY":5.5,"title":null,"symbolType":"stroke","symbolSize":767,"symbolStrokeWidth":1.6,"labelFontSize":12.3,"clipHeight":20.3,"rowPadding":0,"labelOffset":9,"padding":0,"labelExpr":"['Unscaled','Nc = 10000','Nc = 3000','Nc = 1000','Nc = 300'][datum.value]"}}}},
  {"data":{"values":[{"t":0}]},"mark":{"type":"point","opacity":0},"encoding":{"x":{"field":"t","type":"quantitative","scale":{"domain":[-15.5,316],"nice":false,"zero":false},"axis":{"orient":"top","title":"(h)","labels":false,"ticks":false,"domain":false,"titleAlign":"left","titleX":-7,"titleY":-5,"titleBaseline":"alphabetic","titleFontWeight":"bold","titleFontSize":13}}}}
 ],
 "resolve":{"axis":{"x":"independent"}}}
],"spacing":69.3,"bounds":"flush","resolve":{"scale":{"color":"independent"},"legend":{"color":"independent"}}}
],
"spacing":243,"bounds":"flush","resolve":{"scale":{"color":"independent"},"legend":{"color":"independent"}}
}
